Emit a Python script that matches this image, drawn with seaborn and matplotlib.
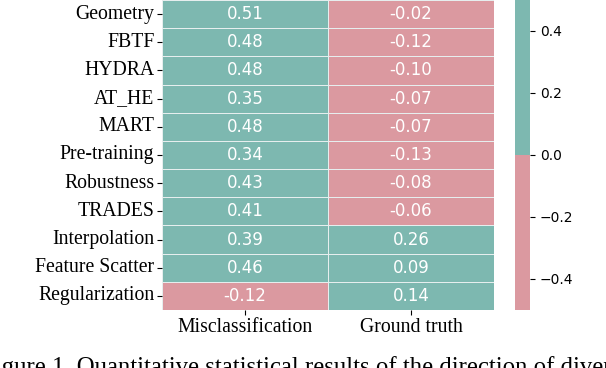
import pandas as pd
import matplotlib
matplotlib.use('Agg')
import matplotlib.pyplot as plt
from matplotlib.colors import ListedColormap
import seaborn as sns

methods = ['Geometry', 'FBTF', 'HYDRA', 'AT_HE', 'MART', 'Pre-training',
           'Robustness', 'TRADES', 'Interpolation', 'Feature Scatter', 'Regularization']
columns = ['Misclassification', 'Ground truth']
misclassification = [0.51, 0.48, 0.48, 0.35, 0.48, 0.34, 0.43, 0.41, 0.39, 0.46, -0.12]
ground_truth = [-0.02, -0.12, -0.10, -0.07, -0.07, -0.13, -0.08, -0.06, 0.26, 0.09, 0.14]
cbar_ticks = [-0.4, -0.2, 0.0, 0.2, 0.4]

df = pd.DataFrame({columns[0]: misclassification, columns[1]: ground_truth}, index=methods)

PINK = '#db99a0'
TEAL = '#7db8b0'
cmap = ListedColormap([PINK, TEAL])

W, H = 606, 368
fig = plt.figure(figsize=(W / 100, H / 100), dpi=100)
ax = fig.add_axes([162 / W, 1 - 310 / H, (494 - 162) / W, 310 / H])
cax = fig.add_axes([515 / W, 1 - 310 / H, (530 - 515) / W, 310 / H])

sns.heatmap(df, ax=ax, cbar_ax=cax, cmap=cmap, vmin=-0.5, vmax=0.5,
            annot=True, fmt='.2f', annot_kws={'fontsize': 12, 'color': 'white'},
            linewidths=0.5, linecolor='#e6eeee')

serif = ['Liberation Serif', 'DejaVu Serif']
ax.set_yticklabels(methods, rotation=0, fontsize=14.2, family=serif)
ax.set_xticklabels(columns, rotation=0, fontsize=14.2, family=serif)
ax.tick_params(axis='both', length=3.5, width=0.8, pad=2)
ax.set_xlabel('')
ax.set_ylabel('')

cax.set_yticks(cbar_ticks)
cax.tick_params(labelsize=10, length=3.5, width=0.8)

# caption below the figure, cut off as in the page crop
fig.text(-19 / W, 1 - 374 / H, 'Figure 1. Quantitative statistical results of the direction of divergence',
         fontsize=17.8, family=serif, va='baseline', ha='left')

fig.savefig('out.png', dpi=100)
